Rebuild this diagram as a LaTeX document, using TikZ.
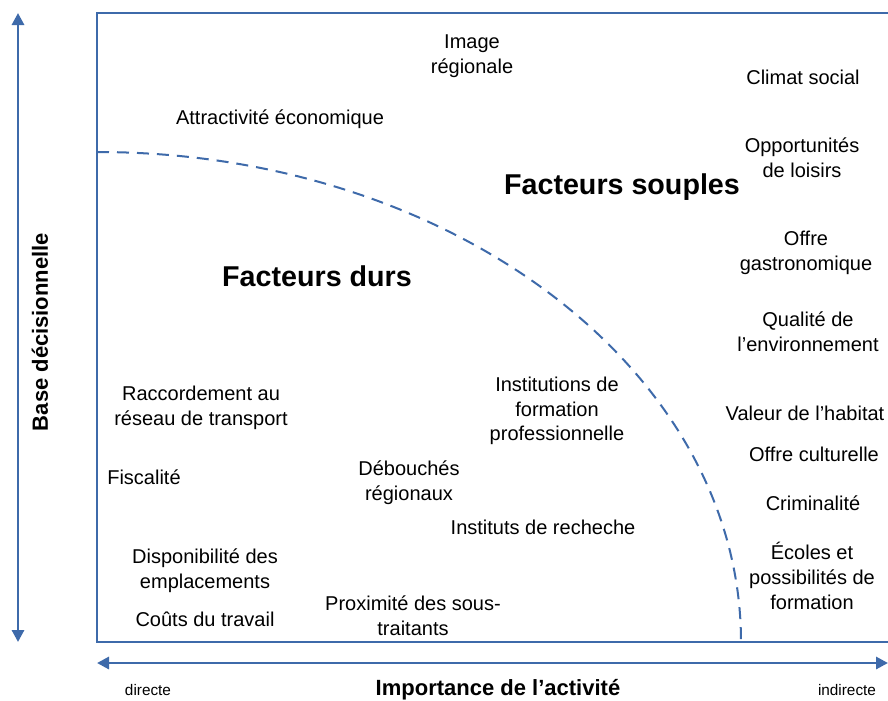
\documentclass[tikz,border=0pt]{standalone}
\usepackage{fontspec}
\setmainfont{Liberation Sans}
\usetikzlibrary{arrows.meta}
\definecolor{axisblue}{RGB}{62,106,170}
\tikzset{
  lbl/.style={align=center, inner sep=0pt, font=\fontsize{15}{18.5}\selectfont, text=black},
  bigl/.style={inner sep=0pt, font=\fontsize{21.5}{24}\selectfont\bfseries},
  axl/.style={inner sep=0pt, font=\fontsize{16.5}{19}\selectfont\bfseries},
  smalll/.style={inner sep=0pt, font=\fontsize{11.5}{13}\selectfont},
  axarrow/.style={draw=axisblue, line width=2.2pt, {Triangle[width=9pt,length=9pt]}-{Triangle[width=9pt,length=9pt]}},
  frame/.style={draw=axisblue, line width=1.5pt},
  arc/.style={draw=axisblue, line width=1.5pt, dash pattern=on 9pt off 6pt}
}
\begin{document}
\begin{tikzpicture}[x=0.75pt,y=-0.75pt]
\clip (0,0) rectangle (888,700);
\fill[white] (0,0) rectangle (888,700);
% frame
\coordinate (tr) at (900,13);
\coordinate (tl) at (97,13);
\coordinate (bl) at (97,642);
\coordinate (br) at (900,642);
\draw[frame] (tr) -- (tl) -- (bl) -- (br);
% dashed boundary
\coordinate (arcstart) at (97,152);
\draw[arc] (arcstart) arc[start angle=90, end angle=0, x radius=644, y radius=-490];
% axes
\coordinate (vtop) at (18,13);
\coordinate (vbot) at (18,642);
\draw[axarrow] (vtop) -- (vbot);
\coordinate (hl) at (97,663);
\coordinate (hr) at (888,663);
\draw[axarrow] (hl) -- (hr);
% axis labels
\node[axl, rotate=90] (base) at (40,332) {Base décisionnelle};
\node[axl] (imp) at (498,690) {Importance de l’activité};
\node[smalll] (dir) at (148,690) {directe};
\node[smalll] (ind) at (847,690) {indirecte};
% big labels
\node[bigl] (souples) at (622,187) {Facteurs souples};
\node[bigl] (durs) at (317,276) {Facteurs durs};
% soft factors
\node[lbl] (img) at (472,56) {Image\\régionale};
\node[lbl] (attr) at (280,119) {Attractivité économique};
\node[lbl] (clim) at (803,77) {Climat social};
\node[lbl] (opp) at (802,158) {Opportunités\\de loisirs};
\node[lbl] (gastro) at (806,253) {Offre\\gastronomique};
\node[lbl] (qual) at (808,332) {Qualité de\\l’environnement};
\node[lbl] (hab) at (805,413) {Valeur de l’habitat};
\node[lbl] (cult) at (814,454) {Offre culturelle};
\node[lbl] (crim) at (813,503) {Criminalité};
\node[lbl] (ecol) at (812,576) {Écoles et\\possibilités de\\formation};
% hard factors
\node[lbl] (racc) at (201,408) {Raccordement au\\réseau de transport};
\node[lbl] (fisc) at (144,477) {Fiscalité};
\node[lbl] (deb) at (409,483) {Débouchés\\régionaux};
\node[lbl] (inst) at (557,411) {Institutions de\\formation\\professionnelle};
\node[lbl] (rech) at (543,527) {Instituts de recheche};
\node[lbl] (disp) at (205,571) {Disponibilité des\\emplacements};
\node[lbl] (cout) at (205,619) {Coûts du travail};
\node[lbl] (prox) at (413,616) {Proximité des sous-\\traitants};
\end{tikzpicture}
\end{document}
